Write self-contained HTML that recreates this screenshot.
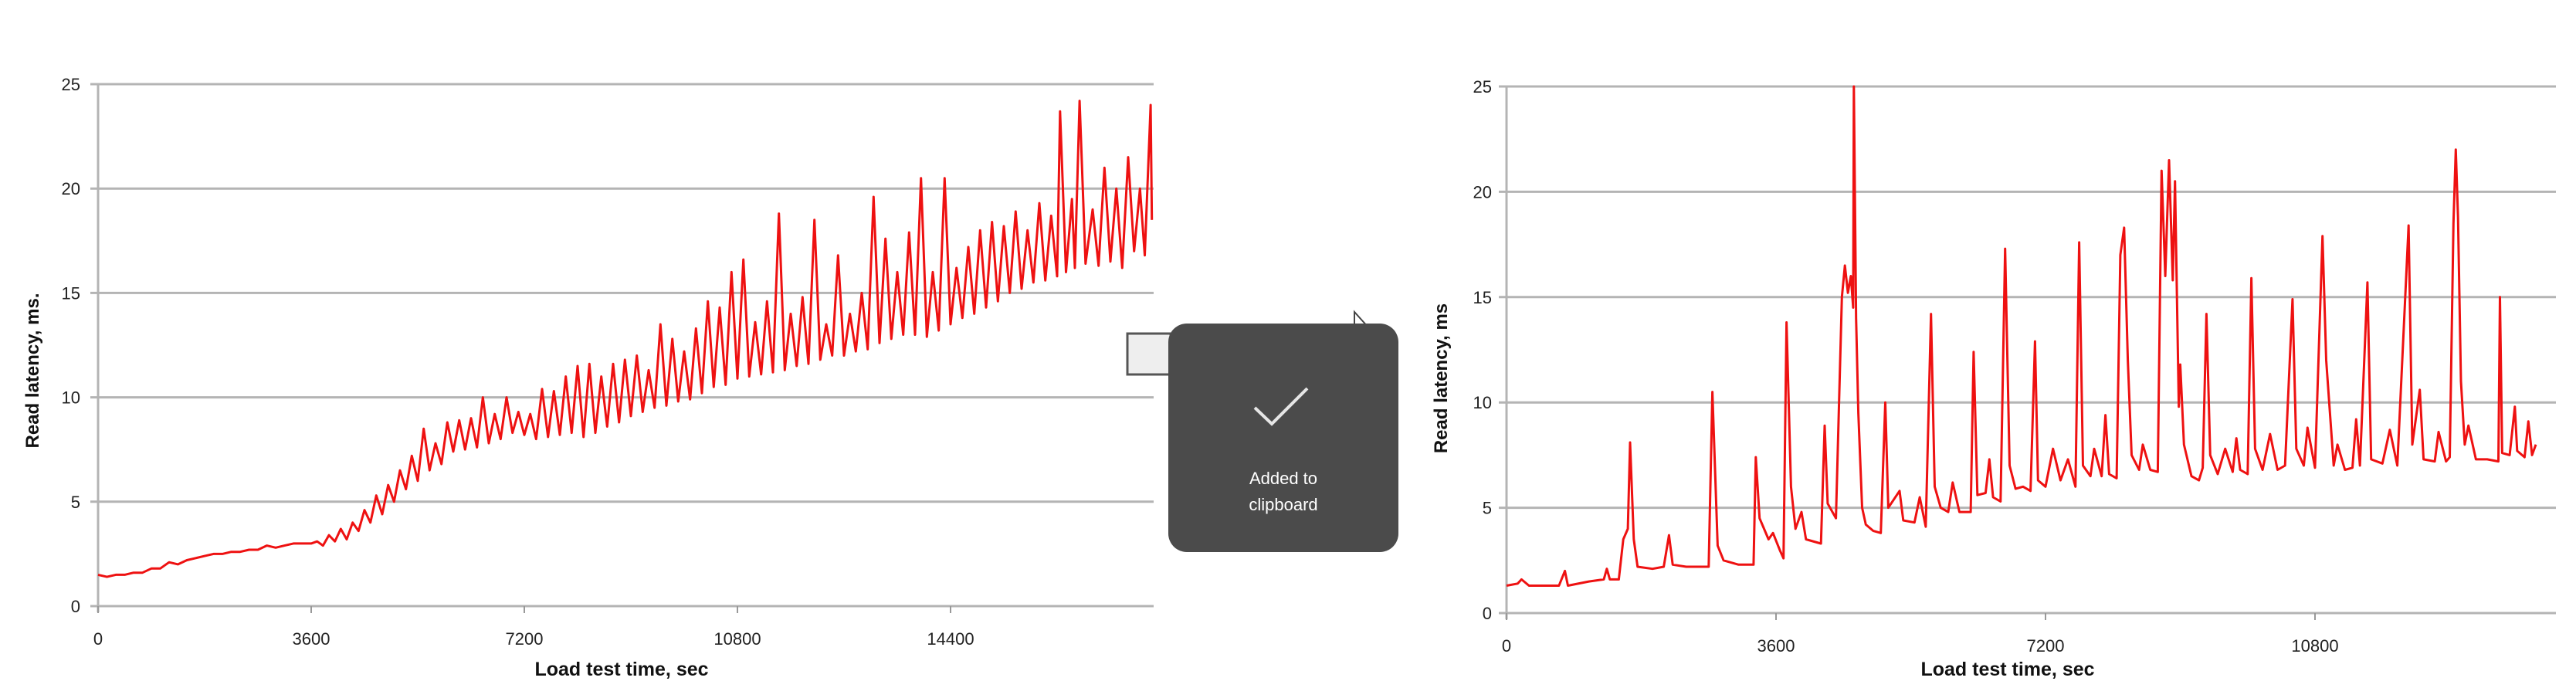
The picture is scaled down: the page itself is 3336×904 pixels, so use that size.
<!DOCTYPE html>
<html><head><meta charset="utf-8"><style>
html,body{margin:0;padding:0;background:#fff;}
body{width:3336px;height:904px;overflow:hidden;position:relative;font-family:"Liberation Sans",sans-serif;}
svg{position:absolute;left:0;top:0;}
</style></head><body>
<svg id="chart" width="3336" height="904">
  <g id="left"></g>
  <g id="right"></g>
  <g>
    <rect x="1460" y="432" width="56" height="53" fill="#eeeeee" stroke="#555" stroke-width="3"/>
    <path d="M1754 404 L1754 426 L1772 424 Z" fill="#fff" stroke="#444" stroke-width="2"/>
    <rect x="1513" y="419" width="298" height="296" rx="24" fill="#4b4b4b"/>
    <path d="M1625 528 L1647 549 L1693 503" fill="none" stroke="#e6e6e6" stroke-width="4"/>
    <text x="1662" y="627" fill="#fff" font-size="22" text-anchor="middle">Added to</text>
    <text x="1662" y="661" fill="#fff" font-size="22" text-anchor="middle">clipboard</text>
  </g>
</svg>
<script>
const leftTicksX=[0,3600,7200,10800,14400];
const rightTicksX=[0,3600,7200,10800];
const ticksY=[0,5,10,15,20,25];
const leftTimes=[0,150,300,450,600,750,900,1050,1200,1350,1500,1650,1800,1950,2100,2250,2400,2550,2700,2850,3000,3150,3300,3450,3600,3700,3800,3900,4000,4100,4200,4300,4400,4500,4600,4700,4800,4900,5000,5100,5200,5300,5400,5500,5600,5700,5800,5900,6000,6100,6200,6300,6400,6500,6600,6700,6800,6900,7000,7100,7200,7300,7400,7500,7600,7700,7800,7900,8000,8100,8200,8300,8400,8500,8600,8700,8800,8900,9000,9100,9200,9300,9400,9500,9600,9700,9800,9900,10000,10100,10200,10300,10400,10500,10600,10700,10800,10900,11000,11100,11200,11300,11400,11500,11600,11700,11800,11900,12000,12100,12200,12300,12400,12500,12600,12700,12800,12900,13000,13100,13200,13300,13400,13500,13600,13700,13800,13900,14000,14100,14200,14300,14400,14500,14600,14700,14800,14900,15000,15100,15200,15300,15400,15500,15600,15700,15800,15900,16000,16100,16200,16250,16350,16450,16500,16580,16680,16800,16900,17000,17100,17200,17300,17400,17500,17600,17680,17780,17800];
const leftValues=[1.5,1.4,1.5,1.5,1.6,1.6,1.8,1.8,2.1,2.0,2.2,2.3,2.4,2.5,2.5,2.6,2.6,2.7,2.7,2.9,2.8,2.9,3.0,3.0,3.0,3.1,2.9,3.4,3.1,3.7,3.2,4.0,3.6,4.6,4.0,5.3,4.4,5.8,5.0,6.5,5.6,7.2,6.0,8.5,6.5,7.8,6.8,8.8,7.4,8.9,7.5,9.0,7.6,10.0,7.8,9.2,8.0,10.0,8.3,9.3,8.2,9.2,8.0,10.4,8.1,10.3,8.2,11.0,8.3,11.5,8.1,11.6,8.3,11.0,8.6,11.6,8.8,11.8,9.1,12.0,9.3,11.3,9.5,13.5,9.6,12.8,9.8,12.2,9.9,13.3,10.2,14.6,10.5,14.3,10.6,16.0,10.9,16.6,11.0,13.6,11.1,14.6,11.2,18.8,11.3,14.0,11.5,14.8,11.6,18.5,11.8,13.5,12.0,16.8,12.0,14.0,12.2,15.0,12.3,19.6,12.6,17.6,12.8,16.0,13.0,17.9,13.0,20.5,12.9,16.0,13.2,20.5,13.5,16.2,13.8,17.2,14.0,18.0,14.3,18.4,14.6,18.2,15.0,18.9,15.2,18.0,15.5,19.3,15.6,18.7,15.8,23.7,16.0,19.5,16.2,24.2,16.4,19.0,16.3,21.0,16.5,20.0,16.2,21.5,17.0,20.0,16.8,24.0,18.5];
const rightTimes=[0,150,200,300,700,780,820,1100,1300,1340,1380,1500,1560,1620,1650,1700,1750,1950,2100,2170,2220,2400,2700,2750,2820,2900,3100,3300,3330,3380,3500,3560,3650,3700,3740,3800,3860,3940,4000,4200,4250,4290,4400,4480,4520,4560,4600,4630,4640,4670,4700,4750,4800,4900,5000,5060,5100,5250,5300,5450,5520,5600,5670,5720,5800,5900,5960,6050,6200,6240,6290,6400,6450,6500,6600,6660,6720,6800,6900,7000,7060,7100,7200,7300,7400,7500,7600,7650,7700,7800,7850,7950,8000,8050,8150,8200,8250,8300,8350,8450,8500,8600,8700,8750,8800,8850,8900,8930,8980,9000,9050,9150,9250,9300,9350,9400,9500,9600,9700,9750,9800,9900,9950,10000,10100,10200,10300,10400,10500,10550,10650,10700,10800,10900,10950,11050,11100,11200,11300,11350,11400,11500,11550,11700,11800,11900,12050,12100,12200,12250,12400,12450,12550,12600,12650,12680,12710,12750,12800,12850,12950,13100,13250,13270,13300,13400,13470,13500,13600,13650,13700,13750];
const rightValues=[1.3,1.4,1.6,1.3,1.3,2.0,1.3,1.5,1.6,2.1,1.6,1.6,3.5,4.0,8.1,3.5,2.2,2.1,2.2,3.7,2.3,2.2,2.2,10.5,3.2,2.5,2.3,2.3,7.4,4.5,3.5,3.8,3.0,2.6,13.8,6.0,4.0,4.8,3.5,3.3,8.9,5.2,4.5,15.0,16.5,15.2,16.0,14.5,25.0,14.0,9.5,5.0,4.2,3.9,3.8,10.0,5.0,5.8,4.4,4.3,5.5,4.1,14.2,6.0,5.0,4.8,6.2,4.8,4.8,12.4,5.6,5.7,7.3,5.5,5.3,17.3,7.0,5.9,6.0,5.8,12.9,6.3,6.0,7.8,6.3,7.3,6.0,17.6,7.0,6.5,7.8,6.5,9.4,6.6,6.4,17.0,18.3,12.0,7.5,6.8,8.0,6.8,6.7,21.0,16.0,21.5,15.8,20.5,9.8,11.8,8.0,6.5,6.3,6.9,14.2,7.5,6.6,7.8,6.7,8.3,6.8,6.6,15.9,7.8,6.8,8.5,6.8,7.0,14.9,7.8,7.0,8.8,6.9,17.9,12.0,7.0,8.0,6.8,6.9,9.2,7.0,15.7,7.3,7.1,8.7,7.0,18.4,8.0,10.6,7.3,7.2,8.6,7.2,7.4,18.5,22.0,18.8,11.0,8.0,8.9,7.3,7.3,7.2,15.0,7.6,7.5,9.8,7.7,7.4,9.1,7.5,8.0];

const NS='http://www.w3.org/2000/svg';
function mk(parent,tag,attrs,txt){const e=document.createElementNS(NS,tag);for(const k in attrs)e.setAttribute(k,attrs[k]);if(txt!==undefined)e.textContent=txt;parent.appendChild(e);return e;}

function drawChart(g,cfg,times,values,xticks){
  const sx=t=>cfg.x0+(t/3600)*cfg.px3600;
  const sy=v=>cfg.y0-(v/25)*(cfg.y0-cfg.y25);
  ticksY.forEach(v=>{
    const ln=mk(g,'line',{x1:cfg.x0-10,x2:cfg.xEnd,y1:sy(v),y2:sy(v),stroke:'#b4b4b4','stroke-width':3});
    
    
    const tl=mk(g,'text',{x:cfg.yLabX,y:sy(v)+8,'font-size':22,'text-anchor':'end',fill:'#222','font-family':'"Liberation Sans Narrow","Liberation Sans",sans-serif'},String(v));
    
    
  });
  const ax=mk(g,'line',{x1:cfg.x0,x2:cfg.x0,y1:cfg.y25,y2:cfg.y0+8,stroke:'#b4b4b4','stroke-width':3});
  
  
  xticks.forEach(t=>{
    const tk=mk(g,'line',{x1:sx(t),x2:sx(t),y1:cfg.y0,y2:cfg.y0+9,stroke:'#999','stroke-width':2});
    
    
    const tl=mk(g,'text',{x:sx(t),y:cfg.y0+50,'font-size':22,'text-anchor':'middle',fill:'#222','font-family':'"Liberation Sans Narrow","Liberation Sans",sans-serif'},String(t));
    
    
  });
  let d='';
  times.forEach((t,i)=>{d+=(i?'L':'M')+sx(t).toFixed(1)+' '+sy(values[i]).toFixed(1);});
  const p=mk(g,'path',{d:d,fill:'none',stroke:'#ee1111','stroke-width':3,'stroke-linejoin':'round'});
  
  
  const xt=mk(g,'text',{x:cfg.xTitleX,y:875,'font-size':25,'font-weight':'bold','text-anchor':'middle',fill:'#111'},'Load test time, sec');
  
  
  const yt=mk(g,'text',{x:0,y:0,'font-size':24,'font-weight':'bold','text-anchor':'middle',fill:'#111',transform:`translate(${cfg.yTitleX},${cfg.yTitleY}) rotate(-90)`},cfg.yTitle);
  
  
}
drawChart(document.getElementById('left'),{x0:127,px3600:276,xEnd:1494,y0:785,y25:109,yLabX:104,xTitleX:805,yTitleX:50,yTitleY:480,yTitle:'Read latency, ms.'},leftTimes,leftValues,leftTicksX);
drawChart(document.getElementById('right'),{x0:1951,px3600:349,xEnd:3310,y0:794,y25:112,yLabX:1932,xTitleX:2600,yTitleX:1874,yTitleY:490,yTitle:'Read latency, ms'},rightTimes,rightValues,rightTicksX);
</script>
</body></html>
